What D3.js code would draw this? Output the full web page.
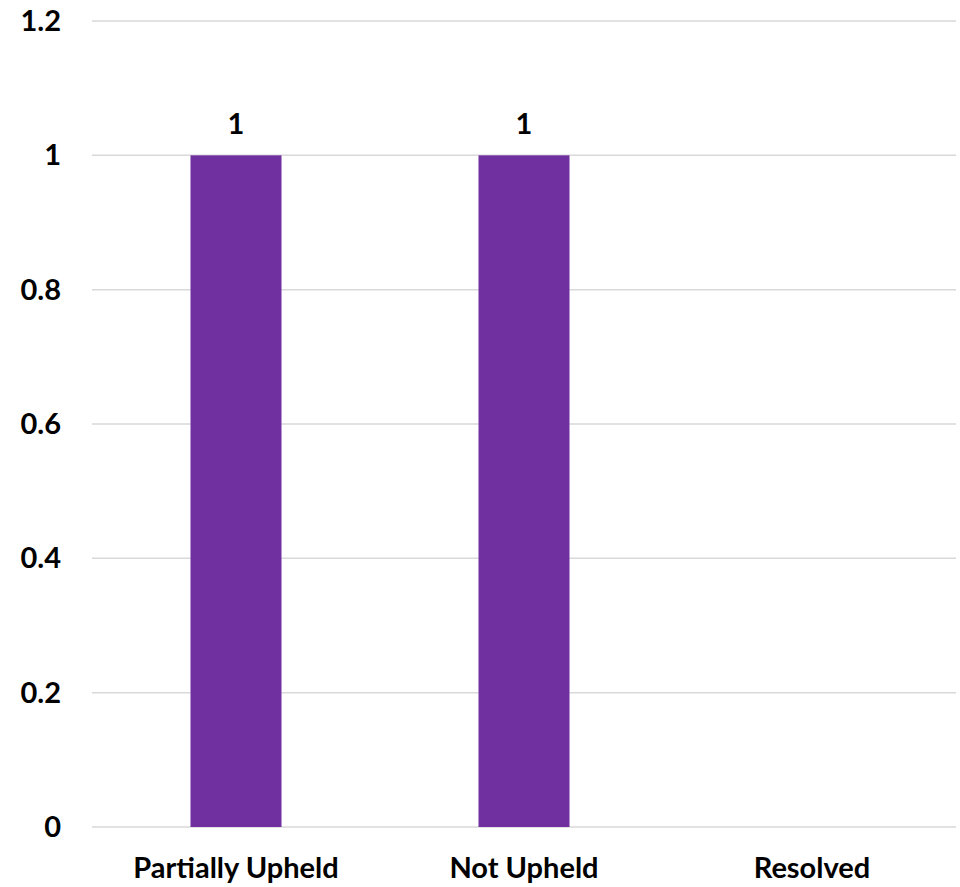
<!DOCTYPE html>
<html><head><meta charset="utf-8">
<script src="https://cdn.jsdelivr.net/npm/d3@7"></script>
<style>body{margin:0;background:#fff}svg{display:block}text{font-family:Lato,"Open Sans",sans-serif;font-weight:bold;fill:#000}</style>
</head><body>
<script>
const categories = ["Partially Upheld", "Not Upheld", "Resolved"];
const values = [1, 1, 0];
const yTicks = [0, 0.2, 0.4, 0.6, 0.8, 1, 1.2];
const tickLabels = ["0", "0.2", "0.4", "0.6", "0.8", "1", "1.2"];

const W = 960, H = 887;
const svg = d3.select("body").append("svg").attr("width", W).attr("height", H);
const x = d3.scaleBand().domain(categories).range([92, 956]).paddingInner(0.684).paddingOuter(0.342);
const y = d3.scaleLinear().domain([0, 1.2]).range([827, 21]);

svg.append("g").selectAll("line").data(yTicks).join("line")
  .attr("x1", 92).attr("x2", 956)
  .attr("y1", d => y(d)).attr("y2", d => y(d))
  .attr("stroke", "#d9d9d9").attr("stroke-width", 1.5);

svg.append("g").selectAll("text").data(yTicks).join("text")
  .attr("x", 61).attr("y", d => y(d)).attr("dy", "0.35em")
  .attr("text-anchor", "end").attr("font-size", 29)
  .text((d, i) => tickLabels[i]);

const data = categories.map((c, i) => ({c, v: values[i]}));
svg.append("g").selectAll("rect").data(data.filter(d => d.v > 0)).join("rect")
  .attr("x", d => x(d.c)).attr("width", x.bandwidth())
  .attr("y", d => y(d.v)).attr("height", d => y(0) - y(d.v))
  .attr("fill", "#7030a0");

svg.append("g").selectAll("text").data(data.filter(d => d.v > 0)).join("text")
  .attr("x", d => x(d.c) + x.bandwidth() / 2).attr("y", d => y(d.v) - 21)
  .attr("text-anchor", "middle").attr("font-size", 29)
  .text(d => d.v);

svg.append("g").selectAll("text").data(categories).join("text")
  .attr("x", d => x(d) + x.bandwidth() / 2).attr("y", 878)
  .attr("text-anchor", "middle").attr("font-size", 29)
  .text(d => d);
</script>
</body></html>
